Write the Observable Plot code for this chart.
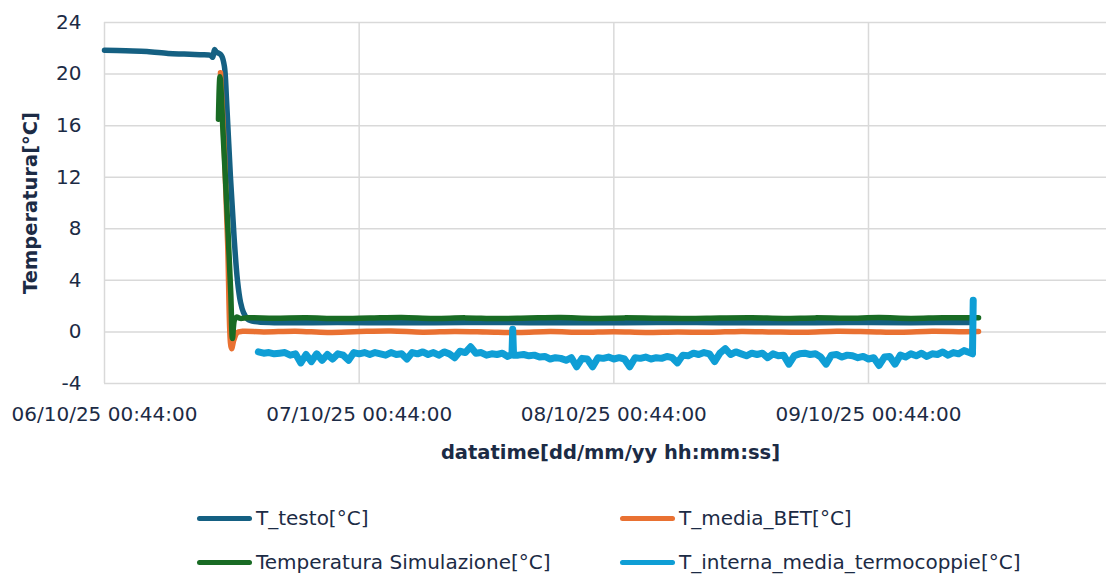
<!DOCTYPE html>
<html>
<head>
<meta charset="utf-8">
<script src="https://cdn.jsdelivr.net/npm/d3@7"></script>
<script src="https://cdn.jsdelivr.net/npm/@observablehq/plot@0.6"></script>
<style>
  html, body { margin:0; padding:0; background:#fff; }
  #wrap { position:relative; width:1106px; height:577px; overflow:hidden; font-family:"DejaVu Sans", sans-serif; }
  #chart { position:absolute; left:0; top:0; }
  .leg { position:absolute; display:flex; align-items:center; font-size:20px; color:#1c2b45; white-space:nowrap; }
  .sw { width:55px; height:5px; border-radius:3px; margin-right:4px; }
</style>
</head>
<body>
<div id="wrap"><div id="chart"></div></div>
<script>
// ---- data (hours since 06/10/25 00:44:00) ----
const seriesNames = ["T_testo[°C]", "T_media_BET[°C]", "Temperatura Simulazione[°C]", "T_interna_media_termocoppie[°C]"];
const seriesColors = ["#156082", "#E97132", "#196B24", "#0F9ED5"];

const testoH = [0, 2, 4, 6, 7.5, 9, 10, 10.2, 10.37, 10.56, 10.8, 11.05, 11.3, 11.5, 11.87, 12.2, 12.53, 12.82, 13.1, 13.48, 14.2, 16, 22, 28, 34, 40, 46, 52, 58, 64, 70, 76, 81.8];
const testoV = [21.85, 21.8, 21.75, 21.6, 21.55, 21.5, 21.45, 21.3, 21.9, 21.7, 21.6, 21.4, 20.6, 18.0, 12.0, 7.5, 4.0, 2.3, 1.5, 1.0, 0.8, 0.72, 0.73, 0.71, 0.73, 0.72, 0.71, 0.73, 0.72, 0.71, 0.73, 0.72, 0.73];

const betH = [10.93, 11.3, 11.6, 11.97, 12.2, 12.5, 13, 15, 18, 21, 24, 27, 30, 33, 36, 39, 42, 45, 48, 51, 54, 57, 60, 63, 66, 69, 72, 75, 78, 81, 82.37];
const betV = [20.1, 14, 7, -1.3, -0.6, -0.05, 0.05, 0.0, 0.06, -0.04, 0.03, 0.07, -0.02, 0.04, 0.0, -0.05, 0.03, -0.03, 0.02, -0.04, 0.0, -0.03, 0.04, 0.0, -0.02, 0.05, 0.02, -0.03, 0.05, 0.02, 0.03];

const simH = [10.74, 10.88, 11.2, 11.6, 11.9, 12.06, 12.25, 12.44, 12.8, 13.5, 16, 19, 22, 25, 28, 31, 34, 37, 40, 43, 46, 49, 52, 55, 58, 61, 64, 67, 70, 73, 76, 79, 82.37];
const simV = [16.5, 19.8, 15, 8.5, 3, -0.5, 0.95, 1.15, 1.05, 1.1, 1.07, 1.1, 1.04, 1.08, 1.12, 1.05, 1.09, 1.04, 1.08, 1.11, 1.05, 1.09, 1.06, 1.04, 1.08, 1.1, 1.05, 1.09, 1.06, 1.11, 1.05, 1.1, 1.1];

const termoH = [14.5, 15, 15.5, 16, 16.5, 17, 17.5, 18, 18.5, 19, 19.5, 20, 20.5, 21, 21.5, 22, 22.5, 23, 23.5, 24, 24.5, 25, 25.5, 26, 26.5, 27, 27.5, 28, 28.5, 29, 29.5, 30, 30.5, 31, 31.5, 32, 32.5, 33, 33.5, 34, 34.5, 35, 35.5, 36, 36.5, 37, 37.5, 38, 38.4, 38.47, 38.55, 39, 39.5, 40, 40.5, 41, 41.5, 42, 42.5, 43, 43.5, 44, 44.5, 45, 45.5, 46, 46.5, 47, 47.5, 48, 48.5, 49, 49.5, 50, 50.5, 51, 51.5, 52, 52.5, 53, 53.5, 54, 54.5, 55, 55.5, 56, 56.5, 57, 57.5, 58, 58.5, 59, 59.5, 60, 60.5, 61, 61.5, 62, 62.5, 63, 63.5, 64, 64.5, 65, 65.5, 66, 66.5, 67, 67.5, 68, 68.5, 69, 69.5, 70, 70.5, 71, 71.5, 72, 72.5, 73, 73.5, 74, 74.5, 75, 75.5, 76, 76.5, 77, 77.5, 78, 78.5, 79, 79.5, 80, 80.5, 81, 81.5, 81.8, 81.87];
const termoV = [-1.55, -1.65, -1.6, -1.7, -1.65, -1.6, -1.8, -1.7, -2.4, -1.75, -2.3, -1.7, -2.2, -1.75, -2.1, -1.7, -1.8, -2.2, -1.6, -1.7, -1.6, -1.75, -1.6, -1.7, -1.8, -1.6, -1.75, -1.7, -2.1, -1.6, -1.7, -1.55, -1.75, -1.6, -1.8, -1.55, -1.7, -2.0, -1.5, -1.6, -1.15, -1.65, -1.6, -1.8, -1.7, -1.75, -1.65, -1.9, -1.75, 0.2, -1.8, -1.8, -1.75, -1.85, -1.8, -1.95, -1.9, -2.1, -2.0, -2.05, -2.2, -2.0, -2.7, -2.05, -2.1, -2.7, -2.0, -2.05, -1.95, -2.1, -2.0, -2.1, -2.7, -2.0, -2.05, -1.95, -2.1, -2.0, -2.05, -1.9, -2.0, -2.4, -1.8, -1.85, -1.65, -1.75, -1.6, -1.7, -2.3, -1.65, -1.3, -1.75, -1.55, -1.7, -1.85, -1.65, -1.75, -1.65, -2.0, -1.7, -1.85, -1.8, -2.5, -1.85, -1.7, -1.65, -1.75, -1.7, -1.95, -2.5, -1.8, -1.75, -1.95, -1.8, -1.85, -2.0, -1.9, -2.1, -2.0, -2.6, -1.95, -1.9, -2.5, -1.8, -1.95, -1.7, -1.85, -1.65, -1.9, -1.7, -1.75, -1.55, -1.8, -1.6, -1.7, -1.45, -1.6, -1.7, 2.45];

const yTicks = [-4, 0, 4, 8, 12, 16, 20, 24];
const xTickHours = [0, 24, 48, 72];
const xTickLabels = ["06/10/25 00:44:00", "07/10/25 00:44:00", "08/10/25 00:44:00", "09/10/25 00:44:00"];
const xTitle = "datatime[dd/mm/yy hh:mm:ss]";
const yTitle = "Temperatura[°C]";

// ---- build ----
const base = Date.UTC(2025, 9, 6, 0, 44, 0);
const toDate = h => new Date(base + h * 3600e3);
const mk = (H, V) => H.map((h, i) => ({t: toDate(h), v: V[i]}));
const series = [mk(testoH, testoV), mk(betH, betV), mk(simH, simV), mk(termoH, termoV)];
const xTickDates = xTickHours.map(toDate);
const widths = [5.5, 5.5, 5.5, 7];

const lineOpts = i => ({x: "t", y: "v", stroke: seriesColors[i], strokeWidth: widths[i], strokeLinejoin: "round", strokeLinecap: "round", curve: "catmull-rom"});

const chart = Plot.plot({
  width: 1106, height: 470,
  marginLeft: 104, marginRight: 0, marginTop: 22, marginBottom: 87,
  style: {fontFamily: "DejaVu Sans, sans-serif", fontSize: "20px", color: "#1c2b45", background: "white", overflow: "visible"},
  x: {type: "utc", domain: [toDate(0), toDate(94.43)]},
  y: {domain: [-4, 24]},
  marks: [
    Plot.ruleY(yTicks, {stroke: "#d9d9d9", strokeWidth: 1.5}),
    Plot.ruleX(xTickDates, {stroke: "#d9d9d9", strokeWidth: 1.5}),
    Plot.axisY(yTicks, {tickSize: 0, tickPadding: 23, fontSize: 20, label: null, tickFormat: d => String(d)}),
    Plot.axisX(xTickDates, {tickSize: 0, tickPadding: 23, fontSize: 20, label: null, tickFormat: (d, i) => xTickLabels[i]}),
    Plot.line(series[0], lineOpts(0)),
    Plot.line(series[1], lineOpts(1)),
    Plot.line(series[2], lineOpts(2)),
    Plot.line(series[3], {...lineOpts(3), curve: "linear"}),
    Plot.text([xTitle], {frameAnchor: "bottom", lineAnchor: "middle", dy: 69, dx: 5, fontWeight: "bold", fontSize: 19.5, fill: "#1c2b45"}),
    Plot.text([yTitle], {frameAnchor: "left", textAnchor: "middle", dx: -74, rotate: -90, fontWeight: "bold", fontSize: 19.5, fill: "#1c2b45"})
  ]
});
document.getElementById("chart").appendChild(chart);

// ---- legend ----
const legPos = [[197, 518], [620, 518], [197, 562], [620, 562]];
const wrap = document.getElementById("wrap");
seriesNames.forEach((name, i) => {
  const d = document.createElement("div");
  d.className = "leg";
  d.style.left = legPos[i][0] + "px";
  d.style.top = (legPos[i][1] - 13) + "px";
  d.style.height = "26px";
  const sw = document.createElement("div");
  sw.className = "sw";
  sw.style.background = seriesColors[i];
  const tx = document.createElement("span");
  tx.textContent = name;
  d.appendChild(sw); d.appendChild(tx);
  wrap.appendChild(d);
});
</script>
</body>
</html>
